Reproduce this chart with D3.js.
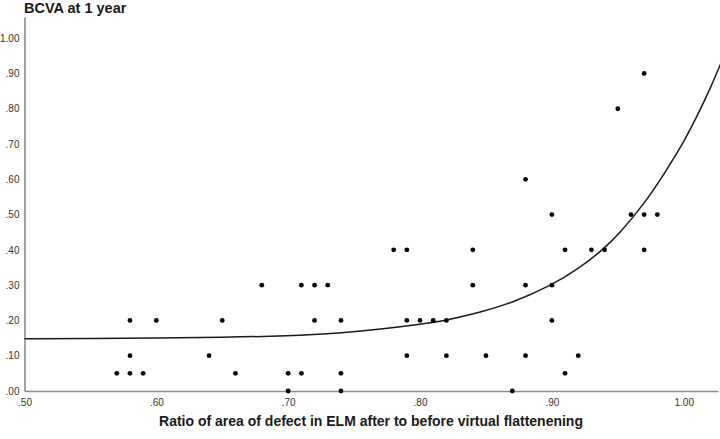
<!DOCTYPE html>
<html>
<head>
<meta charset="utf-8">
<script src="https://cdn.jsdelivr.net/npm/d3@7"></script>
<style>
  html, body { margin: 0; padding: 0; background: #fff; }
  svg { display: block; font-family: "Liberation Sans", Arial, sans-serif; }
  .axis path { stroke: #8c8c8c; stroke-width: 1.6; }
  .axis text { fill: #333; font-size: 10px; font-family: "Liberation Sans", Arial, sans-serif; }
</style>
</head>
<body>
<div id="chart"></div>
<script>
// BCVA at 1 year vs ratio of ELM defect area (after / before virtual flattening)

const ratio = [0.57, 0.58, 0.58, 0.58, 0.59, 0.60, 0.64, 0.65, 0.66, 0.68,
               0.70, 0.70, 0.71, 0.71, 0.72, 0.72, 0.73, 0.74, 0.74, 0.74,
               0.78, 0.79, 0.79, 0.79, 0.80, 0.81, 0.82, 0.82, 0.84, 0.84,
               0.85, 0.87, 0.88, 0.88, 0.88, 0.90, 0.90, 0.90, 0.91, 0.91,
               0.92, 0.93, 0.94, 0.95, 0.96, 0.97, 0.97, 0.97, 0.98];
const bcva  = [0.05, 0.20, 0.10, 0.05, 0.05, 0.20, 0.10, 0.20, 0.05, 0.30,
               0.05, 0.00, 0.30, 0.05, 0.30, 0.20, 0.30, 0.20, 0.05, 0.00,
               0.40, 0.40, 0.20, 0.10, 0.20, 0.20, 0.20, 0.10, 0.40, 0.30,
               0.10, 0.00, 0.60, 0.30, 0.10, 0.50, 0.30, 0.20, 0.40, 0.05,
               0.10, 0.40, 0.40, 0.80, 0.50, 0.90, 0.50, 0.40, 0.50];

// fitted curve
const fitX = [0.50, 0.55, 0.60, 0.65, 0.70, 0.74, 0.77, 0.80, 0.82, 0.846, 0.87, 0.90, 0.92, 0.939, 0.952, 0.97, 0.986, 1.000, 1.010, 1.020, 1.030];
const fitY = [0.148, 0.149, 0.150, 0.152, 0.156, 0.164, 0.175, 0.189, 0.200, 0.223, 0.250, 0.300, 0.346, 0.401, 0.450, 0.530, 0.620, 0.705, 0.778, 0.856, 0.945];

const xTicks = [0.5, 0.6, 0.7, 0.8, 0.9, 1.0];
const yTicks = [0, 0.1, 0.2, 0.3, 0.4, 0.5, 0.6, 0.7, 0.8, 0.9, 1.0];

const yTitle = "BCVA at 1 year";
const xTitle = "Ratio of area of defect in ELM after to before virtual flattenening";

const W = 720, H = 439;
const x = d3.scaleLinear().domain([0.5, 1.026]).range([24.5, 718]);
const y = d3.scaleLinear().domain([0, 1.06]).range([391, 17]);

// SPSS style labels: ".50", "1.00"
const fmt = v => d3.format(".2f")(v).replace(/^0\./, ".");

const svg = d3.select("#chart").append("svg")
  .attr("width", W).attr("height", H)
  .attr("viewBox", `0 0 ${W} ${H}`);

svg.append("g").attr("class", "axis")
  .attr("transform", `translate(0,${y(0)})`)
  .call(d3.axisBottom(x).tickValues(xTicks).tickFormat(fmt).tickSize(0).tickPadding(8).tickSizeOuter(0));

svg.append("g").attr("class", "axis")
  .attr("transform", `translate(${x(0.5)},0)`)
  .call(d3.axisLeft(y).tickValues(yTicks).tickFormat(fmt).tickSize(0).tickPadding(5).tickSizeOuter(0));

// fit line
const fit = fitX.map((v, i) => [v, fitY[i]]);
svg.append("path")
  .datum(fit)
  .attr("fill", "none")
  .attr("stroke", "#1a1a1a")
  .attr("stroke-width", 1.5)
  .attr("d", d3.line().x(d => x(d[0])).y(d => y(d[1])).curve(d3.curveBasis));

// points
svg.append("g").selectAll("circle")
  .data(ratio.map((v, i) => [v, bcva[i]]))
  .join("circle")
  .attr("cx", d => x(d[0]))
  .attr("cy", d => y(d[1]))
  .attr("r", 2.4)
  .attr("fill", "#000");

svg.append("text")
  .attr("x", 24).attr("y", 13)
  .attr("font-size", 14.5).attr("font-weight", "bold").attr("fill", "#1a1a1a")
  .text(yTitle);

svg.append("text")
  .attr("x", 371).attr("y", 426)
  .attr("text-anchor", "middle")
  .attr("font-size", 14).attr("font-weight", "bold").attr("fill", "#1a1a1a")
  .text(xTitle);
</script>
</body>
</html>
